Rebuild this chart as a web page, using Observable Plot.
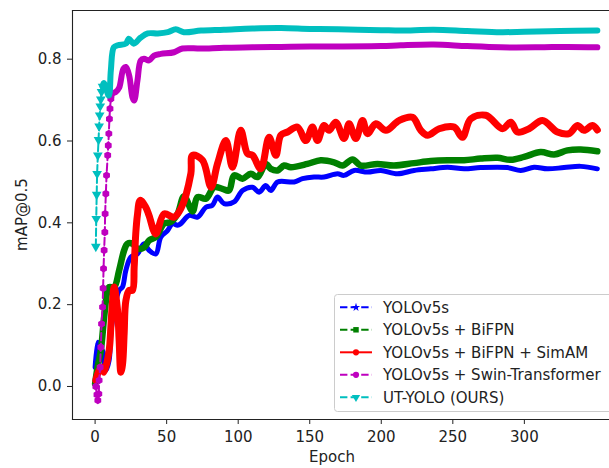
<!DOCTYPE html>
<html><head><meta charset="utf-8">
<script src="https://cdn.jsdelivr.net/npm/d3@7"></script>
<script src="https://cdn.jsdelivr.net/npm/@observablehq/plot@0.6"></script>
<style>body{margin:0;background:#fff} svg{display:block}</style>
</head><body><div id="chart"></div>
<script>
const seriesNames = ["YOLOv5s", "YOLOv5s + BiFPN", "YOLOv5s + BiFPN + SimAM", "YOLOv5s + Swin-Transformer", "UT-YOLO (OURS)"];
const colors = ["#0000ff", "#008000", "#ff0000", "#bf00bf", "#00bfbf"];
const xTicks = [0, 50, 100, 150, 200, 250, 300];
const yTicks = [0, 0.2, 0.4, 0.6, 0.8];
const xLabel = "Epoch";
const yLabel = "mAP@0.5";

// [epoch, mAP@0.5]
const yolov5s = [[0,0.047],[1.7,0.108],[2.8,0.064],[5.2,0.088],[7.5,0.039],[9.8,0.064],[11,0.129],[13.3,0.186],[16.8,0.235],[19.1,0.243],[21.5,0.284],[24.9,0.316],[29.6,0.324],[34.2,0.349],[37.7,0.333],[42.4,0.324],[45.9,0.365],[50.6,0.381],[54.1,0.398],[57.6,0.394],[59.9,0.398],[65.7,0.418],[71.6,0.414],[77.4,0.438],[82,0.443],[85.5,0.463],[90.1,0.447],[97.1,0.451],[103,0.479],[110,0.487],[114.6,0.475],[119.3,0.491],[122.8,0.479],[127.5,0.5],[139.1,0.5],[144.9,0.508],[153,0.512],[160,0.512],[169.4,0.52],[174,0.516],[181,0.528],[190.4,0.524],[199.7,0.528],[211.3,0.52],[222.9,0.528],[234.6,0.532],[246.3,0.536],[257.9,0.532],[269.5,0.535],[288.2,0.535],[297.5,0.528],[306.8,0.536],[316.1,0.532],[327.7,0.535],[339.4,0.538],[351,0.532]];

const bifpn = [[0,0.007],[1.7,0.047],[4,0.088],[6.3,0.169],[8.7,0.235],[9.8,0.243],[13.3,0.243],[16.8,0.284],[20.3,0.333],[22.6,0.349],[26.1,0.349],[29.6,0.337],[34.2,0.34],[37.7,0.357],[42.4,0.365],[48.2,0.398],[52.9,0.402],[57.6,0.422],[62.2,0.465],[68.1,0.428],[71.6,0.463],[77.4,0.459],[83.2,0.487],[89,0.483],[93.6,0.479],[97.1,0.516],[103,0.508],[108.8,0.52],[113.5,0.512],[119.3,0.544],[122.8,0.532],[127.5,0.528],[132.1,0.54],[136.8,0.536],[148.4,0.544],[157.7,0.553],[167,0.548],[172.9,0.54],[179.9,0.555],[185.7,0.54],[197.3,0.544],[208.9,0.54],[222.9,0.546],[234.6,0.551],[246.3,0.553],[257.9,0.553],[269.5,0.557],[281.2,0.559],[290.5,0.554],[299.8,0.561],[311.4,0.573],[320.8,0.567],[330.1,0.577],[339.4,0.579],[351,0.575]];

const simam = [[0.5,0.015],[2.8,0.039],[5.2,0.047],[6.3,0.035],[9.8,0.088],[11,0.145],[12.2,0.21],[13.3,0.243],[15.7,0.186],[16.8,0.112],[18,0.035],[19.2,0.055],[20.3,0.129],[21.5,0.21],[23.8,0.235],[26.1,0.235],[27.3,0.292],[28.4,0.373],[29.6,0.42],[31.5,0.455],[35.4,0.438],[37.7,0.418],[42.4,0.373],[48.2,0.422],[55.2,0.414],[60,0.435],[66.9,0.52],[68.1,0.565],[75.1,0.553],[81,0.487],[85.5,0.544],[91.4,0.601],[96,0.536],[101.8,0.626],[106.5,0.569],[110,0.565],[115.8,0.532],[121.6,0.609],[126.3,0.565],[129.8,0.614],[134.5,0.622],[141.4,0.634],[147.2,0.601],[151.9,0.634],[155.4,0.601],[160,0.638],[163.5,0.626],[168.2,0.646],[174,0.606],[177.5,0.642],[182.2,0.606],[186.9,0.65],[190.4,0.618],[196.2,0.642],[203.2,0.626],[212.4,0.65],[221.8,0.658],[227.6,0.626],[232.3,0.614],[240.4,0.63],[250.9,0.634],[256.7,0.609],[262.5,0.654],[273,0.663],[284.7,0.63],[290.5,0.646],[295.2,0.622],[303.3,0.63],[312.6,0.65],[323.1,0.622],[331.2,0.618],[337.1,0.638],[341.7,0.626],[347.6,0.638],[351,0.627]];

const swinRise = [[0.5,0.0],[1.3,-0.02],[1.9,-0.034],[2.6,-0.018],[2.8,0.015],[3.5,0.047],[4,0.096],[4.5,0.153],[5.2,0.194],[5.6,0.24],[5.9,0.288],[6.3,0.333],[6.8,0.377],[7,0.422],[7.5,0.471],[8,0.516],[8.8,0.565],[9.2,0.589],[9.6,0.618],[10,0.654],[10.4,0.679],[11,0.703]];
const swinMain = [[11,0.703],[12.2,0.716],[14.5,0.72],[16.8,0.73],[19.8,0.777],[21.5,0.781],[23.8,0.76],[26.1,0.707],[27.3,0.699],[29.6,0.748],[31.9,0.797],[34.2,0.801],[37.7,0.797],[41.2,0.809],[45.9,0.813],[55.2,0.817],[61.1,0.826],[74,0.826],[90,0.828],[110,0.829],[130,0.83],[150,0.831],[170,0.831],[200,0.832],[213.6,0.834],[236.6,0.836],[260,0.832],[283.5,0.829],[310,0.829],[330,0.83],[351,0.829]];

const utRise = [[0.5,0.342],[0.8,0.41],[1.1,0.469],[1.4,0.52],[1.9,0.565],[2.4,0.603],[2.8,0.636],[3.2,0.663],[3.6,0.685],[4,0.702],[4.5,0.72],[5.2,0.733]];
const utMain = [[5.2,0.733],[6.1,0.742],[9.6,0.711],[11,0.773],[13.1,0.829],[15.9,0.834],[21.5,0.838],[23.6,0.85],[27,0.838],[31.9,0.853],[36.8,0.863],[43.8,0.863],[50.8,0.866],[56.4,0.873],[62,0.866],[74,0.87],[90,0.872],[110,0.875],[130,0.876],[150,0.874],[170,0.873],[200,0.871],[213.6,0.87],[236.6,0.872],[260,0.869],[283.5,0.866],[300,0.867],[325,0.869],[351,0.87]];

const rows = a => a.map(([epoch, value]) => ({epoch, value}));
const dash = "7.4,3.2";
const FS = 15;

function band(arr, i, w) {
  return Plot.line(rows(arr), {x: "epoch", y: "value", stroke: colors[i], strokeWidth: w,
    curve: "catmull-rom", strokeLinecap: "round", strokeLinejoin: "round"});
}
function rise(arr, i, symbol, r, rotate) {
  return [
    Plot.line(rows(arr), {x: "epoch", y: "value", stroke: colors[i], strokeWidth: 2, strokeDasharray: dash}),
    Plot.dot(rows(arr), {x: "epoch", y: "value", fill: colors[i], stroke: "none", symbol, r, rotate: rotate || 0})
  ];
}

const chart = Plot.plot({
  width: 609, height: 468,
  marginLeft: 72, marginRight: 0, marginTop: 10, marginBottom: 49,
  style: {fontFamily: "DejaVu Sans", fontSize: FS + "px", background: "#fff", color: "#222"},
  x: {domain: [-15.8, 359.5]},
  y: {domain: [-0.0807, 0.919]},
  marks: [
    band(yolov5s, 0, 5),
    band(bifpn, 1, 6.5),
    band(simam, 2, 7),
    ...rise(swinRise, 3, "hexagon", 3.4),
    band(swinMain, 3, 6),
    ...rise(utRise, 4, "triangle", 3.6, 180),
    band(utMain, 4, 6),
    Plot.frame({anchor: "top", stroke: "#222", strokeWidth: 1.1}),
    Plot.frame({anchor: "left", stroke: "#222", strokeWidth: 1.1}),
    Plot.frame({anchor: "bottom", stroke: "#222", strokeWidth: 1.1}),
    Plot.axisX({ticks: xTicks, tickSize: 5, tickPadding: 7, label: null, fontSize: FS, stroke: "#222"}),
    Plot.axisY({ticks: yTicks, tickSize: 5, tickPadding: 6, label: null, tickFormat: d3.format(".1f"), fontSize: FS, stroke: "#222"})
  ]
});

const svg = d3.select(chart);
// axis titles
svg.append("text").text(xLabel).attr("x", 332).attr("y", 462)
  .attr("text-anchor", "middle").attr("font-family", "DejaVu Sans").attr("font-size", FS).attr("fill", "#222");
svg.append("text").text(yLabel).attr("transform", "translate(26.5,214.5) rotate(-90)")
  .attr("text-anchor", "middle").attr("font-family", "DejaVu Sans").attr("font-size", FS).attr("fill", "#222");

// legend
const legendSymbols = [d3.symbolStar, d3.symbolSquare, d3.symbolCircle, d3.symbolCircle, d3.symbolTriangle];
const legendDash = [dash, dash, null, dash, dash];
const lg = svg.append("g").attr("text-anchor", "start");
lg.append("rect").attr("x", 334.5).attr("y", 294.5).attr("width", 320).attr("height", 117)
  .attr("rx", 3).attr("fill", "#fff").attr("fill-opacity", 0.8).attr("stroke", "#ccc");
seriesNames.forEach((name, i) => {
  const cy = 307.3 + i * 22.5;
  const g = lg.append("g");
  g.append("line").attr("x1", 340).attr("x2", 372).attr("y1", cy).attr("y2", cy)
    .attr("stroke", colors[i]).attr("stroke-width", 2).attr("stroke-dasharray", legendDash[i]);
  g.append("path").attr("d", d3.symbol(legendSymbols[i], i === 0 ? 22 : 30)())
    .attr("transform", `translate(356,${cy})` + (i === 4 ? " rotate(180)" : ""))
    .attr("fill", colors[i]);
  g.append("text").text(name).attr("x", 383).attr("y", cy).attr("dy", "0.36em")
    .attr("text-anchor", "start")
    .attr("font-family", "DejaVu Sans").attr("font-size", FS).attr("fill", "#222");
});

document.getElementById("chart").appendChild(chart);
</script>
</body></html>
